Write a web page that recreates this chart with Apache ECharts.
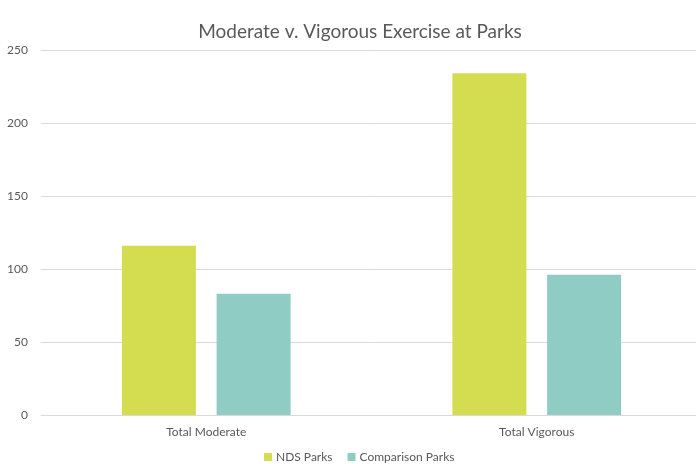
<!DOCTYPE html>
<html><head><meta charset="utf-8">
<script src="https://cdn.jsdelivr.net/npm/echarts@6/dist/echarts.min.js"></script>
<style>html,body{margin:0;padding:0;background:#fff;overflow:hidden;width:696px;height:464px}#c{width:708px;height:464px}</style>
</head><body><div id="c"></div>
<script>
const categories = ['Total Moderate', 'Total Vigorous'];
const ndsParks = [116, 234];
const comparisonParks = [83, 96];
const yTicks = {min: 0, max: 250, interval: 50};

const chart = echarts.init(document.getElementById('c'), null, {renderer: 'canvas'});
const font = 'Lato, "Open Sans", sans-serif';
chart.setOption({
  animation: false,
  backgroundColor: '#fff',
  title: {
    text: 'Moderate v. Vigorous Exercise at Parks',
    left: 355, top: 17, textAlign: 'center',
    textStyle: {fontFamily: font, fontSize: 19, fontWeight: 'normal', color: '#595959'}
  },
  legend: {
    left: 264, top: 451, padding: 0,
    itemWidth: 8, itemHeight: 8, itemGap: 15,
    icon: 'rect',
    textStyle: {fontFamily: font, fontSize: 12, color: '#595959', padding: [0, 0, 0, -1]},
    data: ['NDS Parks', 'Comparison Parks']
  },
  grid: {left: 41, top: 50, width: 661, height: 365, containLabel: false},
  xAxis: {
    type: 'category', data: categories,
    axisLine: {lineStyle: {color: '#d9d9d9', width: 1}},
    axisTick: {show: false},
    axisLabel: {fontFamily: font, fontSize: 12, color: '#595959', margin: 11}
  },
  yAxis: {
    type: 'value', min: yTicks.min, max: yTicks.max, interval: yTicks.interval,
    axisLine: {show: false}, axisTick: {show: false},
    splitLine: {lineStyle: {color: '#d9d9d9', width: 1}},
    axisLabel: {fontFamily: font, fontSize: 12, color: '#595959', margin: 13}
  },
  series: [
    {name: 'NDS Parks', type: 'bar', data: ndsParks, barWidth: 74, barGap: '28%',
     itemStyle: {color: '#D4DC50'}},
    {name: 'Comparison Parks', type: 'bar', data: comparisonParks, barWidth: 74,
     itemStyle: {color: '#8FCCC4'}}
  ]
});
</script></body></html>
